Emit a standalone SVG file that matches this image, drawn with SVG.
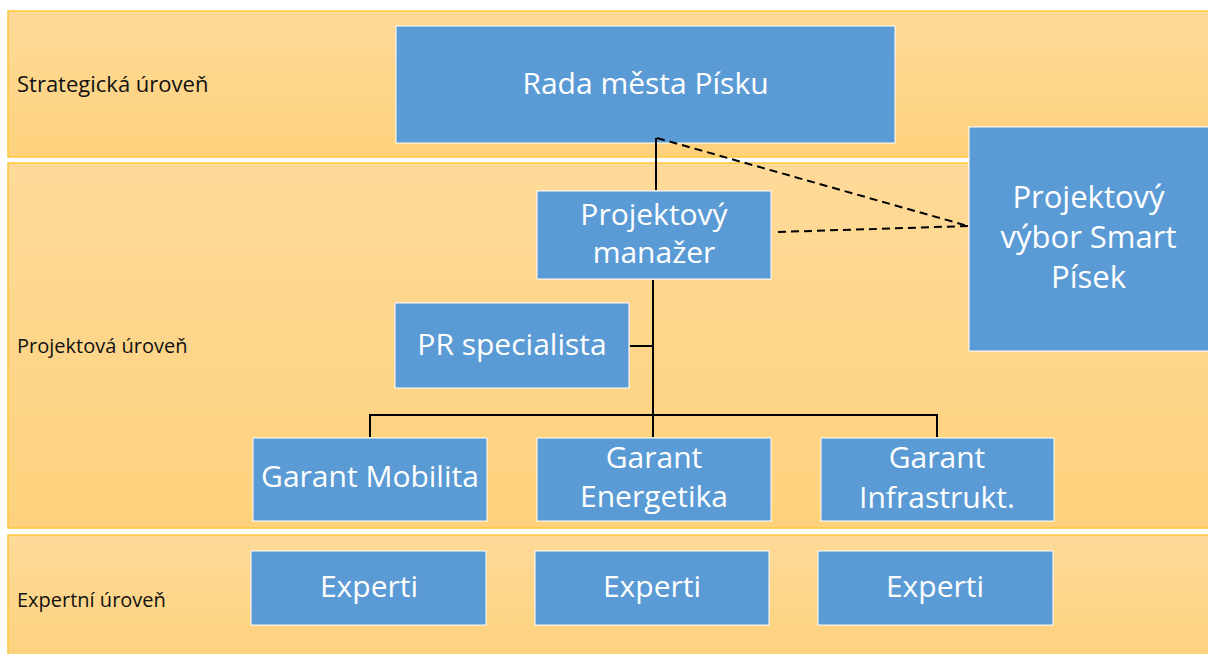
<svg xmlns="http://www.w3.org/2000/svg" width="1208" height="654" viewBox="0 0 1208 654">
<defs>
<linearGradient id="bandGrad" x1="0" y1="0" x2="0" y2="1">
<stop offset="0" stop-color="#FEDA99"/>
<stop offset="1" stop-color="#FED27C"/>
</linearGradient>
<style>
.band{fill:url(#bandGrad);stroke:#FFC83D;stroke-width:1.5}
.node{fill:#5B9BD5;stroke:#FFFFFF;stroke-width:1}
.nt{font-family:"Open Sans","Liberation Sans",sans-serif;fill:#FFFFFF;text-anchor:middle;font-size:30px}
.bl{font-family:"Open Sans","Liberation Sans",sans-serif;fill:#111111;font-size:20px}
.solid{fill:none;stroke:#000000;stroke-width:2}
.dash{fill:none;stroke:#000000;stroke-width:2;stroke-dasharray:8 5}
</style>
</defs>
<rect width="1208" height="654" fill="#FFFFFF"/>
<g id="bands">
<g id="band-strategic"><rect class="band" x="8" y="11" width="1210" height="146"/><text class="bl" x="17" y="92" style="font-size:22px">Strategická úroveň</text></g>
<g id="band-project"><rect class="band" x="8" y="163" width="1210" height="365"/><text class="bl" x="17" y="353">Projektová úroveň</text></g>
<g id="band-expert"><rect class="band" x="8" y="535" width="1210" height="130"/><text class="bl" x="17" y="607">Expertní úroveň</text></g>
</g>
<g id="rada"><rect class="node" x="396" y="26" width="499" height="117"/><text class="nt" x="645.5" y="94">Rada města Písku</text></g>
<g id="smart"><rect class="node" x="969" y="127" width="245" height="224"/><text class="nt" x="1088.5" y="208" style="font-size:31px">Projektový</text><text class="nt" x="1088.5" y="248" style="font-size:31px">výbor Smart</text><text class="nt" x="1088.5" y="288" style="font-size:31px">Písek</text></g>
<g id="pm"><rect class="node" x="537" y="191" width="234" height="88"/><text class="nt" x="654" y="225">Projektový</text><text class="nt" x="654" y="263">manažer</text></g>
<g id="pr"><rect class="node" x="395" y="303" width="234" height="85"/><text class="nt" x="512" y="355">PR specialista</text></g>
<g id="g-mobilita"><rect class="node" x="253" y="438" width="234" height="83"/><text class="nt" x="370" y="487">Garant Mobilita</text></g>
<g id="g-energetika"><rect class="node" x="537" y="438" width="234" height="83"/><text class="nt" x="654" y="468">Garant</text><text class="nt" x="654" y="507">Energetika</text></g>
<g id="g-infra"><rect class="node" x="821" y="438" width="233" height="83"/><text class="nt" x="937" y="468">Garant</text><text class="nt" x="937" y="508">Infrastrukt.</text></g>
<g id="exp1"><rect class="node" x="251" y="551" width="235" height="74"/><text class="nt" x="369" y="597">Experti</text></g>
<g id="exp2"><rect class="node" x="535" y="551" width="234" height="74"/><text class="nt" x="652" y="597">Experti</text></g>
<g id="exp3"><rect class="node" x="818" y="551" width="235" height="74"/><text class="nt" x="935" y="597">Experti</text></g>
<g id="connectors">
<path class="solid" d="M656 138 V190"/>
<path class="solid" d="M653 280 V415"/>
<path class="solid" d="M630 346 H653"/>
<path class="solid" d="M370 437 V415 H937 V437"/>
<path class="solid" d="M653 415 V437"/>
<path class="dash" d="M657 138 L968 226"/>
<path class="dash" d="M778 232 L968 226"/>
</g>
</svg>
